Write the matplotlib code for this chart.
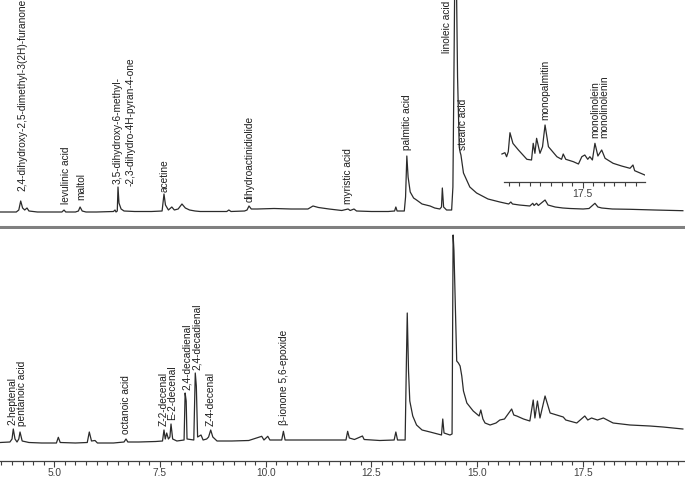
import matplotlib
matplotlib.use('Agg')
import matplotlib.pyplot as plt
from matplotlib.ticker import MultipleLocator, FixedLocator, FormatStrFormatter

plt.rcParams['font.family'] = ['Liberation Sans', 'DejaVu Sans']

# ---- upper chromatogram (retention time, intensity) ----
top_t = [3.72, 4.10, 4.16, 4.205, 4.25, 4.30, 4.354, 4.40, 4.60, 5.00, 5.18, 5.23, 5.27, 5.50, 5.57,
         5.61, 5.66, 5.75, 6.00, 6.40, 6.436, 6.46, 6.49, 6.507, 6.53, 6.58, 6.65, 6.90, 7.30, 7.55,
         7.595, 7.63, 7.70, 7.78, 7.84, 7.93, 8.02, 8.10, 8.20, 8.33, 8.45, 8.80, 9.08, 9.13, 9.18,
         9.50, 9.56, 9.606, 9.66, 9.80, 10.20, 10.60, 11.00, 11.12, 11.25, 11.50, 11.80, 11.95, 12.00,
         12.09, 12.15, 12.50, 12.90, 13.05, 13.08, 13.11, 13.28, 13.31, 13.34, 13.37, 13.42, 13.50,
         13.57, 13.70, 13.89, 14.00, 14.12, 14.16, 14.18, 14.21, 14.28, 14.40, 14.43, 14.46, 14.49,
         14.54, 14.58, 14.60, 14.62, 14.68, 14.83, 14.99, 15.26, 15.54, 15.75, 15.80, 15.84, 16.00,
         16.25, 16.32, 16.35, 16.41, 16.45, 16.61, 16.68, 16.85, 17.03, 17.20, 17.51, 17.65, 17.79,
         17.86, 17.95, 18.20, 18.62, 19.20, 19.87]
top_y = [15, 15, 17, 26, 19, 17, 19, 16, 15, 15, 15, 17, 15, 15, 16,
         20, 16, 15, 15, 15.5, 17, 15, 16, 40, 24, 18, 16, 15.5, 15.5, 16,
         33, 22, 17, 20, 17, 18, 23, 19, 17, 16, 15.5, 15.5, 15.5, 17, 15.5,
         16, 17, 21, 18, 18, 18.5, 18, 18, 21, 19.5, 18, 16.5, 18, 16.5,
         18, 16, 15.5, 15.5, 16, 20, 16, 16, 30, 71, 50, 35, 29,
         27, 23, 21, 19, 18, 20, 39, 20, 17, 17, 40, 180, 330,
         150, 80, 75, 72, 54, 40, 34, 28, 25, 23, 25, 23, 22,
         21, 23.7, 21.5, 23.7, 21.5, 27, 22, 20, 19, 18.5, 18, 18.5, 23.7,
         20, 19, 18, 17.7, 17, 16.3]

# ---- inset: enlarged part of the upper trace ----
ins_t = [15.59, 15.66, 15.70, 15.74, 15.78, 15.85, 15.98, 16.18, 16.29, 16.33, 16.37, 16.41, 16.49,
         16.55, 16.61, 16.69, 16.89, 17.00, 17.04, 17.10, 17.28, 17.40, 17.48, 17.55, 17.62, 17.67,
         17.73, 17.79, 17.86, 17.95, 18.03, 18.22, 18.42, 18.62, 18.69, 18.73, 18.97]
ins_y = [27.7, 29, 25, 30, 49, 38.3, 31.7, 22.4, 21.7, 38.4, 28.4, 43.4, 28.4,
         35, 56.7, 35, 25, 22.4, 27.7, 22.4, 20, 17.7, 25, 26.7, 22.4, 25,
         21.7, 38.4, 25.7, 31.7, 23.4, 18.4, 15.7, 13.4, 16.7, 11, 6.7]

# ---- lower chromatogram ----
bot_t = [3.72, 3.95, 4.00, 4.030, 4.07, 4.118, 4.16, 4.189, 4.24, 4.40, 4.70, 5.05, 5.095, 5.14,
         5.50, 5.78, 5.828, 5.88, 5.963, 6.02, 6.40, 6.65, 6.696, 6.74, 7.00, 7.40, 7.56, 7.595,
         7.625, 7.659, 7.70, 7.735, 7.761, 7.80, 7.90, 8.07, 8.095, 8.12, 8.14, 8.30, 8.335, 8.36,
         8.39, 8.471, 8.52, 8.605, 8.65, 8.700, 8.75, 8.85, 9.20, 9.60, 9.907, 9.96, 10.05, 10.10,
         10.38, 10.42, 10.46, 11.00, 11.50, 11.90, 11.94, 11.98, 12.10, 12.29, 12.33, 12.70, 13.04,
         13.08, 13.12, 13.30, 13.33, 13.35, 13.38, 13.41, 13.48, 13.57, 13.70, 13.89, 14.16, 14.19,
         14.22, 14.36, 14.41, 14.435, 14.455, 14.52, 14.56, 14.60, 14.64, 14.68, 14.76, 14.91, 15.05,
         15.09, 15.14, 15.19, 15.31, 15.45, 15.54, 15.65, 15.82, 15.87, 15.94, 16.10, 16.25, 16.33,
         16.37, 16.43, 16.49, 16.61, 16.73, 17.04, 17.10, 17.36, 17.55, 17.62, 17.71, 17.85, 17.99,
         18.22, 18.62, 19.09, 19.40, 19.87]
bot_y = [18.5, 19, 22, 32, 22, 19, 22, 29, 20, 18.5, 18, 18, 23.7, 18.5,
         18, 18.5, 29, 20, 20.5, 18, 18, 19, 22, 19, 19, 19.5, 20, 31,
         22, 28, 22, 24, 37, 22, 20, 21, 68, 60, 22, 21, 88, 75,
         24, 26, 21, 22, 24, 31, 24, 20, 20, 20.5, 24.7, 21, 24.7, 21,
         21, 29.7, 21, 21, 21, 21, 29.7, 23, 21.5, 25, 21.5, 20.5, 21,
         29, 21, 21, 100, 148, 90, 60, 45, 36, 31, 29, 26, 42,
         28, 26, 27, 226, 210, 100, 98, 95, 85, 70, 58, 50, 45,
         51, 42, 38, 36, 38, 41, 42, 52, 46, 45, 42, 40, 61,
         43, 60, 43, 65, 48, 44, 41, 38, 45, 41, 43, 41, 43,
         38, 36, 35, 34, 32]

# peak labels: text, retention time, height of label foot
top_names = ['2,4-dihydroxy-2,5-dimethyl-3(2H)-furanone', 'levulinic acid', 'maltol',
             '3,5-dihydroxy-6-methyl-', '-2,3-dihydro-4H-pyran-4-one', 'acetine',
             'dihydroactinidiolide', 'myristic acid', 'palmitic acid', 'linoleic acid',
             'stearic acid', 'monopalmitin', 'monolinolein', 'monolinolenin']
top_lab_t = [4.236, 5.27, 5.63, 6.49, 6.81, 7.62, 9.61, 11.96, 13.35, 14.30, 14.67, 16.61, 17.79, 18.01]
top_lab_y = [36, 23, 27, 43, 41, 35, 25, 23, 77, 174, 77, 107, 89, 89]

bot_names = ['2-heptenal', 'pentanoic acid', 'octanoic acid', 'Z-2-decenal', 'E-2-decenal',
             '2,4-decadienal', '2,4-decadienal', 'Z-4-decenal', '\u03b2-ionone 5,6-epoxide']
bot_lab_t = [4.02, 4.23, 6.70, 7.58, 7.79, 8.13, 8.37, 8.70, 10.43]
bot_lab_y = [36, 35, 27, 35, 41, 71, 91, 35, 36]

# pixel -> time: 5.0 at 54.3 px, 42.27 px per min
x0 = 5 - 54.3 / 42.27
x1 = 5 + (685 - 54.3) / 42.27
W, H = 685, 478

fig = plt.figure(figsize=(6.85, 4.78), dpi=100)
line_col = '#2b2b2b'
txt_col = '#1e1e1e'
lab_size = 7.3

# upper panel
ax_top = fig.add_axes([0, (H - 227) / H, 1, 227 / H])
ax_top.plot(top_t, top_y, color=line_col, lw=0.9)
ax_top.set_xlim(x0, x1)
ax_top.set_ylim(0, 227)
for s in ['top', 'left', 'right']:
    ax_top.spines[s].set_visible(False)
ax_top.spines['bottom'].set_color('#808080')
ax_top.spines['bottom'].set_linewidth(2.2)
ax_top.set_xticks([])
ax_top.set_yticks([])
for name, t, y in zip(top_names, top_lab_t, top_lab_y):
    ax_top.text(t, y, name, rotation=90, ha='center', va='bottom', fontsize=lab_size, color=txt_col)

# inset
ax_in = fig.add_axes([500 / W, (H - 181.7) / H, 145 / W, 66.7 / H])
ax_in.patch.set_alpha(0)
ax_in.plot(ins_t, ins_y, color=line_col, lw=0.9)
ax_in.set_xlim(5 + (500 - 54.3) / 42.27, 5 + (645 - 54.3) / 42.27)
ax_in.set_ylim(0, 66.7)
for s in ['top', 'left', 'right']:
    ax_in.spines[s].set_visible(False)
ax_in.spines['bottom'].set_bounds(15.63, 18.97)
ax_in.spines['bottom'].set_color('#404040')
ax_in.spines['bottom'].set_linewidth(0.9)
ax_in.set_yticks([])
ax_in.xaxis.set_major_locator(FixedLocator([17.5]))
ax_in.xaxis.set_major_formatter(FormatStrFormatter('%.1f'))
ax_in.xaxis.set_minor_locator(MultipleLocator(0.25))
ax_in.tick_params(axis='x', which='major', length=4, width=0.8, colors='#404040', labelsize=7.5, pad=1.5)
ax_in.tick_params(axis='x', which='minor', length=3, width=0.8, colors='#404040')

# lower panel
ax_bot = fig.add_axes([0, 17 / H, 1, 232 / H])
ax_bot.plot(bot_t, bot_y, color=line_col, lw=0.9)
ax_bot.set_xlim(x0, x1)
ax_bot.set_ylim(0, 232)
for s in ['top', 'left', 'right']:
    ax_bot.spines[s].set_visible(False)
ax_bot.spines['bottom'].set_color('#404040')
ax_bot.spines['bottom'].set_linewidth(0.9)
ax_bot.set_yticks([])
ax_bot.xaxis.set_major_locator(MultipleLocator(2.5))
ax_bot.xaxis.set_major_formatter(FormatStrFormatter('%.1f'))
ax_bot.xaxis.set_minor_locator(MultipleLocator(0.25))
ax_bot.tick_params(axis='x', which='major', length=4, width=0.8, colors='#404040', labelsize=7.3, pad=0.8)
ax_bot.tick_params(axis='x', which='minor', length=3, width=0.8, colors='#404040')
for name, t, y in zip(bot_names, bot_lab_t, bot_lab_y):
    ax_bot.text(t, y, name, rotation=90, ha='center', va='bottom', fontsize=lab_size, color=txt_col)

fig.savefig('out.png', dpi=100)
